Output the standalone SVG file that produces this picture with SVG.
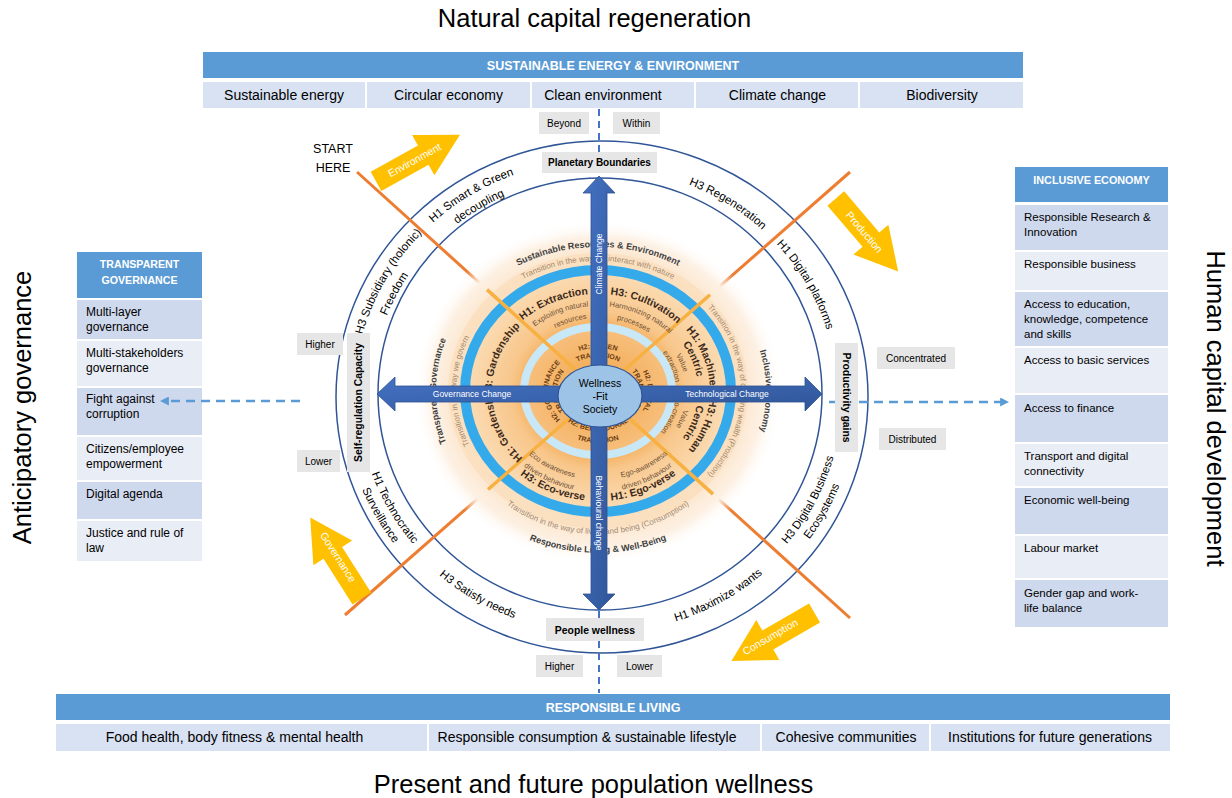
<svg xmlns="http://www.w3.org/2000/svg" width="1232" height="798" viewBox="0 0 1232 798">
<style>
  text { font-family: "Liberation Sans", Arial, sans-serif; }
  .title { font-size: 25.5px; fill: #000; }
  .hdr { fill: #5B9BD5; }
  .hdrt { font-size: 12.5px; font-weight: bold; fill: #fff; text-anchor: middle; }
  .boxh { font-size: 10.6px; font-weight: bold; fill: #fff; text-anchor: middle; }
  .cell { fill: #D9E2F3; }
  .cellt { font-size: 14px; fill: #000; text-anchor: middle; }
  .rowd { fill: #CFD9EE; }
  .rowl { fill: #E9EDF6; }
  .rowt { font-size: 12px; fill: #000; }
  .rowr { font-size: 11.5px; fill: #000; }
  .tag { fill: #E6E6E6; }
  .tagt { font-size: 10px; fill: #000; text-anchor: middle; }
  .tagb { font-size: 10.4px; font-weight: bold; fill: #000; text-anchor: middle; }
  .ring { fill: none; stroke: #2F5597; stroke-width: 1.5; }
  .diag { stroke: #ED7D31; stroke-width: 3; }
  .diagin { stroke: #F7B042; stroke-width: 3.5; }
  .band { font-size: 11.5px; fill: #000; text-anchor: middle; }
  .yarrow { fill: #FFC000; }
  .yt { font-size: 10.5px; fill: #fff; text-anchor: middle; }
  .bluearrow { fill: url(#blueGrad); stroke: #2F528F; stroke-width: 0.8; }
  .at { font-size: 8.5px; fill: #fff; text-anchor: middle; }
  .dash { stroke: #5B9BD5; stroke-width: 2.5; stroke-dasharray: 9 6; fill: none; }
  .vdash { stroke: #4472C4; stroke-width: 2; stroke-dasharray: 7 5; fill: none; }
  .sect { font-size: 9px; font-weight: bold; fill: #3F3F3F; text-anchor: middle; }
  .trans { font-size: 8px; fill: #A3896F; text-anchor: middle; }
  .hz { font-size: 10.5px; font-weight: bold; fill: #3B2A1C; text-anchor: middle; }
  .sub { font-size: 7.5px; fill: #6E5038; text-anchor: middle; }
  .h2 { font-size: 7px; font-weight: bold; fill: #6A3A12; text-anchor: middle; }
  .center { font-size: 10.5px; fill: #000; text-anchor: middle; }
</style>
<defs>
  <radialGradient id="halo" cx="50%" cy="50%" r="50%">
    <stop offset="0" stop-color="#FCE1C2"/>
    <stop offset="0.78" stop-color="#FCE6CD"/>
    <stop offset="0.9" stop-color="#FDF1E4"/>
    <stop offset="1" stop-color="#FFFFFF" stop-opacity="0"/>
  </radialGradient>
  <radialGradient id="bandGrad" cx="50%" cy="50%" r="50%">
    <stop offset="0" stop-color="#F3A54A"/>
    <stop offset="0.55" stop-color="#F5B466"/>
    <stop offset="0.65" stop-color="#F8C68A"/>
    <stop offset="1" stop-color="#FBDDB6"/>
  </radialGradient>
  <radialGradient id="coreGrad" cx="50%" cy="50%" r="50%">
    <stop offset="0" stop-color="#F2A445"/>
    <stop offset="1" stop-color="#F7C07F"/>
  </radialGradient>
  <linearGradient id="blueGrad" x1="0" y1="0" x2="1" y2="1">
    <stop offset="0" stop-color="#4472C4"/>
    <stop offset="1" stop-color="#2F5597"/>
  </linearGradient>
  <marker id="dhead" viewBox="0 0 10 10" refX="1" refY="5" markerWidth="9" markerHeight="9" markerUnits="userSpaceOnUse" orient="auto">
    <path d="M0,0 L10,5 L0,10 Z" fill="#5B9BD5"/>
  </marker>
  <path id="ya" d="M-48,-11H6V-23L48,0L6,23V11H-48Z"/>

  <!-- outer band label arcs (wheel centre ~600,396) -->
  <path id="p_sub1" d="M358.5,441 A246,236 0 0 1 511.8,175.7"/>
  <path id="p_sub2" d="M376.9,445.5 A229,220 0 0 1 510.5,193.5"/>
  <path id="p_smart1" d="M366,323.1 A246,236 0 0 1 634.2,162.3"/>
  <path id="p_smart2" d="M382.2,328 A229,220 0 0 1 631.9,178.1"/>
  <path id="p_regen" d="M571.1,169.7 A237,228 0 0 1 826.6,329.3"/>
  <path id="p_dplat" d="M684.9,183.1 A237,228 0 0 1 832.6,439.5"/>
  <path id="p_dbe1" d="M694.5,610.5 A242,233 0 0 0 835.8,343.6"/>
  <path id="p_dbe2" d="M696.3,625 A257,247 0 0 0 851.4,344.6"/>
  <path id="p_max" d="M557.3,629.4 A246,237 0 0 0 831.2,477.1"/>
  <path id="p_sat" d="M367.4,473.2 A246,237 0 0 0 638.5,630.1"/>
  <path id="p_tech1" d="M367.4,331.8 A242,233 0 0 0 533.3,620"/>
  <path id="p_tech2" d="M352.9,327.9 A257,247 0 0 0 529.2,633.4"/>

  <!-- inner emblem arcs (centre 598,391) -->
  <path id="i_sre" d="M445.8,341.7 A162,144 0 0 1 750.2,341.7"/>
  <path id="i_ie" d="M682,261.1 A168,150 0 0 1 682,520.9"/>
  <path id="i_rlw" d="M433.6,446.4 A175,162 0 0 0 762.4,446.4"/>
  <path id="i_tg" d="M517,519.2 A162,148 0 0 1 517,262.8"/>
  <path id="i_t_top" d="M460.8,346.5 A146,130 0 0 1 735.2,346.5"/>
  <path id="i_t_right" d="M658.4,273.2 A143,130 0 0 1 658.4,508.8"/>
  <path id="i_t_bot" d="M457,439.9 A150,143 0 0 0 739,439.9"/>
  <path id="i_t_left" d="M527,501.8 A142,128 0 0 1 527,280.2"/>
  <path id="i_h_ext" d="M498.3,350 A110,97 0 0 1 626.5,297.3"/>
  <path id="i_h_cult" d="M573.3,296.5 A110,97 0 0 1 699.3,353.1"/>
  <path id="i_h_mach1" d="M662.2,309.9 A112,99 0 0 1 706.2,416.6"/>
  <path id="i_h_mach2" d="M655.4,318.9 A100,88 0 0 1 694.6,413.8"/>
  <path id="i_s_mach1" d="M648.5,327.9 A88,77 0 0 1 683,410.9"/>
  <path id="i_s_mach2" d="M642.7,335.3 A78,68 0 0 1 673.3,408.6"/>
  <path id="i_h_hum1" d="M706.2,365.4 A112,99 0 0 1 662.2,472.1"/>
  <path id="i_h_hum2" d="M694.6,368.2 A100,88 0 0 1 655.4,463.1"/>
  <path id="i_s_hum1" d="M683,371.1 A88,77 0 0 1 648.5,454.1"/>
  <path id="i_s_hum2" d="M673.3,373.4 A78,68 0 0 1 642.7,446.7"/>
  <path id="i_h_ego" d="M564.9,496.7 A120,110 0 0 0 705.9,439.2"/>
  <path id="i_s_ego2" d="M574.9,489.8 A111,101 0 0 0 700.9,428.8"/>
  <path id="i_s_ego1" d="M580.8,478.6 A99,89 0 0 0 691,421.4"/>
  <path id="i_h_eco" d="M490.1,439.2 A120,110 0 0 0 631.1,496.7"/>
  <path id="i_s_eco2" d="M495.1,428.8 A111,101 0 0 0 621.1,489.8"/>
  <path id="i_s_eco1" d="M505,421.4 A99,89 0 0 0 615.2,478.6"/>
  <path id="i_h_g3" d="M499,425 A106,95 0 0 1 543.4,309.6"/>
  <path id="i_h_g1" d="M546.6,474.1 A106,95 0 0 1 497.8,360.1"/>
  <path id="i_s_ext1" d="M510.8,353.7 A97,85 0 0 1 624.7,309.3"/>
  <path id="i_s_ext2" d="M525.3,354.5 A84,73 0 0 1 626.7,322.4"/>
  <path id="i_s_cult1" d="M577.8,307.9 A97,85 0 0 1 687.9,359.2"/>
  <path id="i_s_cult2" d="M577.7,320.2 A84,73 0 0 1 674.7,361.3"/>
  <path id="i_h2_t1" d="M551,376.3 A50,43 0 0 1 645,376.3"/>
  <path id="i_h2_t2" d="M559.5,379.4 A41,34 0 0 1 636.5,379.4"/>
  <path id="i_h2_r1" d="M615.1,350.6 A50,43 0 0 1 615.1,431.4"/>
  <path id="i_h2_r2" d="M612,359 A41,34 0 0 1 612,423"/>
  <path id="i_h2_b1" d="M553.8,404.7 A47,40 0 0 0 642.2,404.7"/>
  <path id="i_h2_b2" d="M542.6,408.8 A59,52 0 0 0 653.4,408.8"/>
  <path id="i_h2_l1" d="M580.9,431.4 A50,43 0 0 1 580.9,350.6"/>
  <path id="i_h2_l2" d="M584,423 A41,34 0 0 1 584,359"/>
</defs>

<rect width="1232" height="798" fill="#fff"/>

<!-- side and top/bottom headings -->
<g id="titles">
  <text class="title" x="594.5" y="27" text-anchor="middle">Natural capital regeneration</text>
  <text class="title" x="593.5" y="793" text-anchor="middle">Present and future population wellness</text>
  <text class="title" transform="translate(30.5,407.5) rotate(-90)" text-anchor="middle">Anticipatory governance</text>
  <text class="title" transform="translate(1207,408.5) rotate(90)" text-anchor="middle">Human capital development</text>
</g>

<!-- top pillar -->
<g id="energy-environment">
  <rect class="hdr" x="203" y="52" width="820" height="26"/>
  <text class="hdrt" x="613" y="70">SUSTAINABLE ENERGY &amp; ENVIRONMENT</text>
  <rect class="cell" x="203" y="82" width="162" height="26"/>
  <rect class="cell" x="367" y="82" width="163" height="26"/>
  <rect class="cell" x="532" y="82" width="162" height="26"/>
  <rect class="cell" x="696" y="82" width="162" height="26"/>
  <rect class="cell" x="860" y="82" width="163" height="26"/>
  <text class="cellt" x="284" y="100">Sustainable energy</text>
  <text class="cellt" x="448.5" y="100">Circular economy</text>
  <text class="cellt" x="603" y="100">Clean environment</text>
  <text class="cellt" x="777.5" y="100">Climate change</text>
  <text class="cellt" x="942" y="100">Biodiversity</text>
</g>

<!-- bottom pillar -->
<g id="responsible-living">
  <rect class="hdr" x="56" y="694" width="1114" height="26"/>
  <text class="hdrt" x="613" y="712">RESPONSIBLE LIVING</text>
  <rect class="cell" x="56" y="724" width="371" height="27"/>
  <rect class="cell" x="429" y="724" width="331" height="27"/>
  <rect class="cell" x="762" y="724" width="167" height="27"/>
  <rect class="cell" x="931" y="724" width="239" height="27"/>
  <text class="cellt" x="234.5" y="742">Food health, body fitness &amp; mental health</text>
  <text class="cellt" x="587" y="742">Responsible consumption &amp; sustainable lifestyle</text>
  <text class="cellt" x="846" y="742">Cohesive communities</text>
  <text class="cellt" x="1050" y="742">Institutions for future generations</text>
</g>

<!-- left pillar -->
<g id="transparent-governance">
  <rect class="hdr" x="77" y="252" width="125" height="46"/>
  <text class="boxh" x="139.5" y="268">TRANSPARENT</text>
  <text class="boxh" x="139.5" y="284">GOVERNANCE</text>
  <rect class="rowd" x="77" y="300" width="125" height="39"/>
  <rect class="rowl" x="77" y="341" width="125" height="45"/>
  <rect class="rowd" x="77" y="388" width="125" height="47"/>
  <rect class="rowl" x="77" y="437" width="125" height="43"/>
  <rect class="rowd" x="77" y="482" width="125" height="37"/>
  <rect class="rowl" x="77" y="521" width="125" height="40"/>
  <text class="rowt" x="86" y="316">Multi-layer</text>
  <text class="rowt" x="86" y="331">governance</text>
  <text class="rowt" x="86" y="357">Multi-stakeholders</text>
  <text class="rowt" x="86" y="372">governance</text>
  <text class="rowt" x="86" y="403">Fight against</text>
  <text class="rowt" x="86" y="418">corruption</text>
  <text class="rowt" x="86" y="453">Citizens/employee</text>
  <text class="rowt" x="86" y="468">empowerment</text>
  <text class="rowt" x="86" y="498">Digital agenda</text>
  <text class="rowt" x="86" y="537">Justice and rule of</text>
  <text class="rowt" x="86" y="552">law</text>
</g>

<!-- right pillar -->
<g id="inclusive-economy">
  <rect class="hdr" x="1015" y="167" width="153" height="35"/>
  <text class="boxh" x="1091.5" y="184" style="font-size:10.8px">INCLUSIVE ECONOMY</text>
  <rect class="rowd" x="1015" y="205" width="153" height="45"/>
  <rect class="rowl" x="1015" y="252" width="153" height="38"/>
  <rect class="rowd" x="1015" y="292" width="153" height="54"/>
  <rect class="rowl" x="1015" y="348" width="153" height="45"/>
  <rect class="rowd" x="1015" y="395" width="153" height="47"/>
  <rect class="rowl" x="1015" y="444" width="153" height="42"/>
  <rect class="rowd" x="1015" y="488" width="153" height="46"/>
  <rect class="rowl" x="1015" y="536" width="153" height="42"/>
  <rect class="rowd" x="1015" y="580" width="153" height="47"/>
  <text class="rowr" x="1024" y="221">Responsible Research &amp;</text>
  <text class="rowr" x="1024" y="236">Innovation</text>
  <text class="rowr" x="1024" y="268">Responsible business</text>
  <text class="rowr" x="1024" y="308">Access to education,</text>
  <text class="rowr" x="1024" y="323">knowledge, competence</text>
  <text class="rowr" x="1024" y="338">and skills</text>
  <text class="rowr" x="1024" y="364">Access to basic services</text>
  <text class="rowr" x="1024" y="412">Access to finance</text>
  <text class="rowr" x="1024" y="460">Transport and digital</text>
  <text class="rowr" x="1024" y="475">connectivity</text>
  <text class="rowr" x="1024" y="504">Economic well-being</text>
  <text class="rowr" x="1024" y="552">Labour market</text>
  <text class="rowr" x="1024" y="597">Gender gap and work-</text>
  <text class="rowr" x="1024" y="612">life balance</text>
</g>

<!-- wheel rings -->
<g id="wheel-rings">
  <ellipse class="ring" cx="602" cy="397" rx="266" ry="256"/>
  <ellipse class="ring" cx="600" cy="394" rx="222" ry="216"/>
</g>

<!-- connectors: diagonals, dashed axes, blue change arrows -->
<g id="connectors">
  <line class="diag" x1="357" y1="172" x2="850" y2="618"/>
  <line class="diag" x1="850" y1="172" x2="345" y2="615"/>
  <line class="vdash" x1="599" y1="109" x2="599" y2="152"/>
  <line class="vdash" x1="599" y1="641" x2="599" y2="693"/>
  <line class="vdash" x1="599" y1="611" x2="599" y2="618"/>
  <line class="dash" x1="300" y1="401" x2="168" y2="401" marker-end="url(#dhead)"/>
  <line class="dash" x1="829" y1="402" x2="1001" y2="402" marker-end="url(#dhead)"/>
</g>

<!-- central emblem -->
<g id="emblem">
  <ellipse cx="598" cy="392" rx="184" ry="172" fill="url(#halo)"/>
  <ellipse cx="598" cy="391" rx="150" ry="138" fill="#FBDDBA" opacity="0.7"/>
  <ellipse cx="598" cy="391" rx="133" ry="121" fill="url(#bandGrad)" stroke="#35AAEB" stroke-width="10"/>
  <ellipse cx="598" cy="391" rx="74" ry="64" fill="url(#coreGrad)" stroke="#C8E8F8" stroke-width="8"/>
  <line class="diagin" x1="487" y1="289.6" x2="713" y2="494.1"/>
  <line class="diagin" x1="710" y1="294.8" x2="488" y2="489.5"/>

  <text class="sect"><textPath href="#i_sre" startOffset="50%">Sustainable Resources &amp; Environment</textPath></text>
  <text class="sect"><textPath href="#i_ie" startOffset="50%">Inclusive Economy</textPath></text>
  <text class="sect"><textPath href="#i_rlw" startOffset="50%">Responsible Living &amp; Well-Being</textPath></text>
  <text class="sect"><textPath href="#i_tg" startOffset="50%">Transparent Governance</textPath></text>

  <text class="trans"><textPath href="#i_t_top" startOffset="50%">Transition in the way we interact with nature</textPath></text>
  <text class="trans"><textPath href="#i_t_right" startOffset="50%">Transition in the way of creating wealth (Production)</textPath></text>
  <text class="trans"><textPath href="#i_t_bot" startOffset="50%">Transition in the way of living and being (Consumption)</textPath></text>
  <text class="trans"><textPath href="#i_t_left" startOffset="50%">Transition in the way we govern</textPath></text>

  <text class="hz"><textPath href="#i_h_ext" startOffset="50%">H1: Extraction</textPath></text>
  <text class="sub"><textPath href="#i_s_ext1" startOffset="50%">Exploiting natural</textPath></text>
  <text class="sub"><textPath href="#i_s_ext2" startOffset="50%">resources</textPath></text>
  <text class="hz"><textPath href="#i_h_cult" startOffset="50%">H3: Cultivation</textPath></text>
  <text class="sub"><textPath href="#i_s_cult1" startOffset="50%">Harmonizing natural</textPath></text>
  <text class="sub"><textPath href="#i_s_cult2" startOffset="50%">processes</textPath></text>
  <text class="hz"><textPath href="#i_h_mach1" startOffset="50%">H1: Machine</textPath></text>
  <text class="hz"><textPath href="#i_h_mach2" startOffset="50%">Centric</textPath></text>
  <text class="sub"><textPath href="#i_s_mach1" startOffset="50%">Value</textPath></text>
  <text class="sub"><textPath href="#i_s_mach2" startOffset="50%">extraction</textPath></text>
  <text class="hz"><textPath href="#i_h_hum1" startOffset="50%">H3: Human</textPath></text>
  <text class="hz"><textPath href="#i_h_hum2" startOffset="50%">Centric</textPath></text>
  <text class="sub"><textPath href="#i_s_hum1" startOffset="50%">Value</textPath></text>
  <text class="sub"><textPath href="#i_s_hum2" startOffset="50%">Co-creation</textPath></text>
  <text class="hz"><textPath href="#i_h_ego" startOffset="50%">H1: Ego-verse</textPath></text>
  <text class="sub"><textPath href="#i_s_ego1" startOffset="50%">Ego-awareness</textPath></text>
  <text class="sub"><textPath href="#i_s_ego2" startOffset="50%">driven behaviour</textPath></text>
  <text class="hz"><textPath href="#i_h_eco" startOffset="50%">H3: Eco-verse</textPath></text>
  <text class="sub"><textPath href="#i_s_eco1" startOffset="50%">Eco awareness</textPath></text>
  <text class="sub"><textPath href="#i_s_eco2" startOffset="50%">driven behaviour</textPath></text>
  <text class="hz"><textPath href="#i_h_g3" startOffset="50%">H3: Gardenship</textPath></text>
  <text class="hz"><textPath href="#i_h_g1" startOffset="50%">H1: Gardenship</textPath></text>

  <text class="h2"><textPath href="#i_h2_t1" startOffset="50%">H2: GREEN</textPath></text>
  <text class="h2"><textPath href="#i_h2_t2" startOffset="50%">TRANSITION</textPath></text>
  <text class="h2"><textPath href="#i_h2_r1" startOffset="50%">H2: DIGITAL</textPath></text>
  <text class="h2"><textPath href="#i_h2_r2" startOffset="50%">TRANSITION</textPath></text>
  <text class="h2"><textPath href="#i_h2_b1" startOffset="50%">H2: BEHAVIOURAL</textPath></text>
  <text class="h2"><textPath href="#i_h2_b2" startOffset="50%">TRANSITION</textPath></text>
  <text class="h2"><textPath href="#i_h2_l1" startOffset="50%">H2: GOVERNANCE</textPath></text>
  <text class="h2"><textPath href="#i_h2_l2" startOffset="50%">TRANSITION</textPath></text>
</g>

<!-- change arrows -->
<g id="change-arrows">
  <polygon class="bluearrow" points="377,394 395,377 395,386 805,386 805,377 822,394 805,411 805,402 395,402 395,411"/>
  <polygon class="bluearrow" points="599,176 615,193 607,193 607,594 615,594 599,610 583,594 591,594 591,193 583,193"/>
  <text class="at" transform="translate(602,264) rotate(-90)">Climate Change</text>
  <text class="at" transform="translate(596,513) rotate(90)">Behavioural change</text>
  <text class="at" x="472" y="397">Governance Change</text>
  <text class="at" x="727" y="397">Technological Change</text>
</g>

<g id="wellness-fit-society">
  <ellipse cx="600" cy="396" rx="42" ry="31" fill="#9DC3E6" stroke="#2F5597" stroke-width="1.2"/>
  <text class="center" x="600" y="387">Wellness</text>
  <text class="center" x="600" y="400">-Fit</text>
  <text class="center" x="600" y="413">Society</text>
</g>

<!-- horizon labels in the outer band -->
<g id="horizon-labels">
  <text class="band"><textPath href="#p_sub1" startOffset="50%">H3 Subsidiary (holonic)</textPath></text>
  <text class="band"><textPath href="#p_sub2" startOffset="50%">Freedom</textPath></text>
  <text class="band"><textPath href="#p_smart1" startOffset="50%">H1 Smart &amp; Green</textPath></text>
  <text class="band"><textPath href="#p_smart2" startOffset="50%">decoupling</textPath></text>
  <text class="band"><textPath href="#p_regen" startOffset="50%">H3 Regeneration</textPath></text>
  <text class="band"><textPath href="#p_dplat" startOffset="50%">H1 Digital platforms</textPath></text>
  <text class="band"><textPath href="#p_dbe1" startOffset="50%">H3 Digital Business</textPath></text>
  <text class="band"><textPath href="#p_dbe2" startOffset="50%">Ecosystems</textPath></text>
  <text class="band"><textPath href="#p_max" startOffset="50%">H1 Maximize wants</textPath></text>
  <text class="band"><textPath href="#p_sat" startOffset="50%">H3 Satisfy needs</textPath></text>
  <text class="band"><textPath href="#p_tech1" startOffset="50%">H1 Technocratic</textPath></text>
  <text class="band"><textPath href="#p_tech2" startOffset="50%">Surveillance</textPath></text>
</g>

<!-- axis end labels -->
<g id="planetary-boundaries">
  <rect class="tag" x="542" y="152" width="115" height="21"/>
  <text class="tagb" x="599.5" y="166" style="font-size:10px">Planetary Boundaries</text>
  <rect class="tag" x="539" y="112" width="50" height="22"/>
  <text class="tagt" x="564" y="126.5">Beyond</text>
  <rect class="tag" x="613" y="112" width="47" height="22"/>
  <text class="tagt" x="636.5" y="126.5">Within</text>
</g>
<g id="people-wellness">
  <rect class="tag" x="546" y="618" width="98" height="23"/>
  <text class="tagb" x="595" y="633.5">People wellness</text>
  <rect class="tag" x="536" y="655" width="47" height="22"/>
  <text class="tagt" x="559.5" y="669.5">Higher</text>
  <rect class="tag" x="617" y="655" width="45" height="22"/>
  <text class="tagt" x="639.5" y="669.5">Lower</text>
</g>
<g id="self-regulation">
  <rect class="tag" x="347" y="333" width="23" height="139"/>
  <text class="tagb" transform="translate(362.2,402.5) rotate(-90)">Self-regulation Capacity</text>
  <rect class="tag" x="297" y="333" width="46" height="22"/>
  <text class="tagt" x="320" y="347.5">Higher</text>
  <rect class="tag" x="297" y="450" width="43" height="22"/>
  <text class="tagt" x="318.5" y="464.5">Lower</text>
</g>
<g id="productivity-gains">
  <rect class="tag" x="835" y="343" width="23" height="109"/>
  <text class="tagb" transform="translate(842.8,397.5) rotate(90)">Productivity gains</text>
  <rect class="tag" x="877" y="347" width="78" height="22"/>
  <text class="tagt" x="916" y="361.5">Concentrated</text>
  <rect class="tag" x="879" y="428" width="67" height="22"/>
  <text class="tagt" x="912.5" y="442.5">Distributed</text>
</g>

<!-- cycle arrows -->
<g id="start">
  <text x="333" y="153" text-anchor="middle" style="font-size:12.5px">START</text>
  <text x="333" y="172" text-anchor="middle" style="font-size:12.5px">HERE</text>
</g>
<g id="environment-arrow" transform="translate(418,158) rotate(-29)">
  <use href="#ya" class="yarrow"/>
  <text class="yt" x="-4" y="3.8">Environment</text>
</g>
<g id="production-arrow" transform="translate(867,235) rotate(49.5)">
  <use href="#ya" class="yarrow"/>
  <text class="yt" x="-4" y="3.8">Production</text>
</g>
<g id="consumption-arrow">
  <use href="#ya" class="yarrow" transform="translate(773,637) rotate(150)"/>
  <text class="yt" transform="translate(772,640) rotate(-30)">Consumption</text>
</g>
<g id="governance-arrow">
  <use href="#ya" class="yarrow" transform="translate(336,558) rotate(237.5)"/>
  <text class="yt" transform="translate(335,559) rotate(57.5)">Governance</text>
</g>
</svg>
